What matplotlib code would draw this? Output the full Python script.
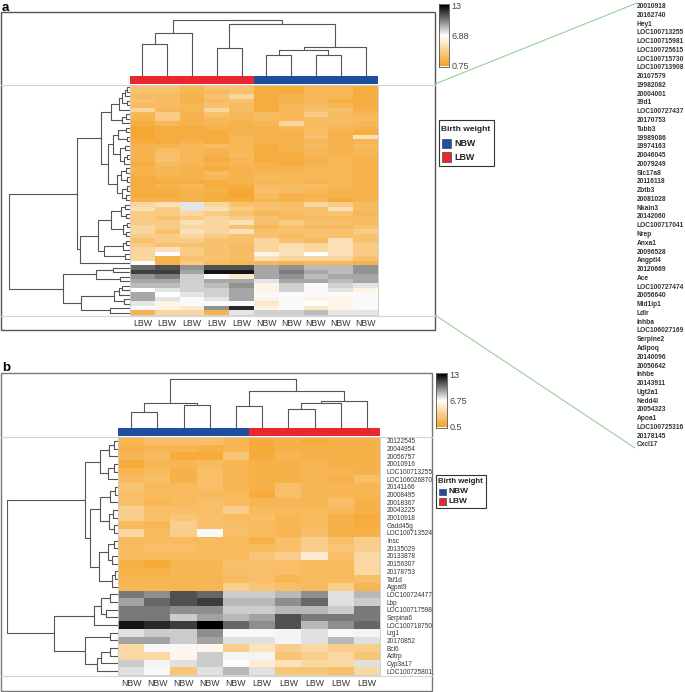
import numpy as np
import matplotlib
matplotlib.use("Agg")
import matplotlib.pyplot as plt
from matplotlib.colors import LinearSegmentedColormap
from matplotlib.patches import Rectangle

plt.rcParams['font.family'] = ['Liberation Sans', 'DejaVu Sans']

# ---------------- data: panel a ----------------
a_cols = ['LBW'] * 5 + ['NBW'] * 5
a_genes = ['20010918', '20162740', 'Hey1', 'LOC100713255', 'LOC100715981', 'LOC100725615',
           'LOC100715730', 'LOC100713908', '20107579', '19982082', '20004001', '39d1',
           'LOC100727437', '20170753', 'Tubb3', '19989086', '19974163', '20046045', '20079249',
           'Slc17a8', '20116118', 'Zbtb3', '20081028', 'Nkain3', '20142060', 'LOC100717041',
           'Nrep', 'Anxa1', '20096528', 'Angptl4', '20120669', 'Ace', 'LOC100727474',
           '20056640', 'Mid1ip1', 'Ldlr', 'Inhba', 'LOC106027169', 'Serpine2', 'Adipoq',
           '20140096', '20050642', 'Inhbe', '20143911', 'Ugt2a1', 'Nedd4l', '20054323',
           'Apoa1', 'LOC100725316', '20178145', 'Cxcl17']
a_vals = [
    [2.9, 2.9, 2.2, 2.9, 2.9, 1.6, 1.6, 2.2, 2.2, 1.6],
    [2.9, 2.9, 2.2, 2.5, 2.9, 1.6, 1.6, 2.2, 2.2, 1.6],
    [2.5, 2.5, 1.9, 2.9, 4.2, 1.6, 1.9, 2.2, 2.2, 1.6],
    [2.9, 2.5, 1.9, 2.5, 2.9, 1.6, 1.9, 2.2, 1.6, 1.6],
    [2.5, 2.5, 2.2, 2.9, 2.5, 1.6, 2.2, 2.5, 2.2, 1.6],
    [4.2, 2.2, 2.2, 4.2, 2.5, 1.6, 2.2, 2.9, 2.9, 1.9],
    [2.2, 3.5, 1.9, 2.9, 2.2, 2.5, 2.2, 3.5, 2.5, 2.2],
    [1.9, 3.5, 1.9, 2.2, 2.2, 2.5, 2.2, 2.5, 2.5, 2.5],
    [1.6, 2.2, 1.9, 2.2, 1.9, 2.2, 4.2, 2.5, 2.5, 2.2],
    [1.2, 1.6, 1.6, 1.9, 1.9, 1.9, 2.2, 2.5, 2.2, 1.9],
    [1.2, 1.6, 1.6, 1.6, 1.9, 1.9, 1.9, 2.5, 1.9, 1.6],
    [1.2, 1.6, 1.6, 1.6, 2.2, 1.9, 1.9, 2.9, 1.9, 4.9],
    [1.6, 1.6, 1.9, 1.6, 2.2, 1.9, 1.9, 2.2, 1.9, 2.2],
    [1.9, 1.9, 2.2, 2.5, 2.2, 1.6, 1.9, 2.5, 1.9, 2.5],
    [1.9, 2.5, 2.2, 1.9, 2.2, 1.6, 1.9, 2.2, 1.9, 2.2],
    [1.9, 2.9, 2.2, 1.9, 2.5, 1.6, 1.6, 2.2, 1.9, 2.2],
    [1.9, 2.9, 2.2, 1.6, 2.2, 1.6, 1.6, 1.9, 2.2, 1.9],
    [1.6, 2.5, 2.2, 1.9, 2.2, 1.9, 1.6, 1.9, 2.2, 1.9],
    [1.9, 2.2, 1.9, 1.6, 1.9, 1.9, 1.9, 2.2, 2.2, 1.9],
    [1.9, 2.2, 1.9, 2.5, 1.9, 2.2, 2.2, 2.2, 2.2, 1.9],
    [1.6, 1.9, 1.9, 2.2, 1.9, 2.5, 2.2, 2.2, 2.2, 1.9],
    [1.6, 1.6, 1.6, 1.6, 1.9, 2.2, 2.2, 1.9, 2.2, 1.9],
    [1.6, 1.9, 2.2, 1.6, 1.6, 2.5, 2.5, 2.5, 2.2, 1.9],
    [1.6, 1.6, 1.9, 1.9, 1.2, 2.9, 2.5, 2.2, 1.9, 1.9],
    [1.6, 1.6, 1.9, 1.6, 1.2, 2.5, 1.9, 1.9, 1.9, 1.9],
    [1.9, 1.9, 1.9, 1.6, 1.6, 2.2, 1.9, 2.2, 1.6, 1.9],
    [4.2, 4.9, 7.5, 4.2, 2.9, 2.9, 2.5, 4.2, 3.5, 2.5],
    [4.9, 3.5, 7.5, 4.9, 3.5, 2.9, 2.9, 2.9, 4.9, 2.5],
    [3.5, 3.5, 4.2, 3.5, 2.9, 2.2, 2.5, 2.9, 2.9, 2.2],
    [3.5, 2.9, 3.5, 4.2, 3.5, 2.9, 2.5, 2.5, 2.5, 2.5],
    [3.5, 3.5, 4.9, 4.2, 4.9, 2.9, 3.5, 2.9, 2.9, 2.5],
    [4.2, 3.5, 4.2, 4.2, 2.9, 2.2, 2.9, 2.5, 2.5, 2.9],
    [4.2, 2.9, 4.9, 4.2, 4.9, 2.9, 2.9, 2.9, 2.9, 3.5],
    [3.5, 3.5, 4.2, 3.5, 2.9, 2.9, 2.5, 2.9, 2.9, 2.9],
    [2.9, 3.5, 3.5, 2.9, 2.9, 4.2, 2.9, 2.5, 4.9, 2.9],
    [3.5, 2.9, 2.9, 2.9, 2.5, 4.2, 4.9, 4.2, 4.9, 3.5],
    [4.2, 4.9, 3.5, 2.9, 2.5, 4.2, 4.9, 4.2, 4.9, 3.5],
    [4.2, 6.9, 3.5, 2.9, 2.5, 6.2, 4.9, 6.9, 4.9, 3.5],
    [4.2, 1.9, 2.9, 2.9, 2.5, 4.9, 4.2, 4.2, 4.2, 2.9],
    [6.8, 1.9, 3.5, 2.5, 2.2, 2.2, 1.9, 2.2, 2.2, 1.9],
    [10.5, 11, 9.5, 11, 11, 9, 9.5, 8.5, 8.5, 9.5],
    [11.5, 11.5, 9, 12.5, 12.5, 9, 10, 9, 8.5, 9.5],
    [9.5, 10, 8, 6.8, 5.5, 9, 9.5, 8.5, 9, 9],
    [9, 9, 8, 9, 9, 7.5, 9, 9, 8.5, 9],
    [8.5, 8.5, 8, 8.5, 9.5, 6.2, 8, 7, 8, 7.5],
    [6.9, 7.5, 8, 8, 9, 6.2, 8, 7, 7.5, 6.2],
    [9, 6.9, 7.5, 8, 9, 7, 7, 7, 7, 7],
    [9, 7.5, 7, 7.5, 9, 6.2, 7, 6.2, 6.2, 7],
    [7.5, 6.2, 7, 7, 7, 5.5, 7, 6.9, 6.2, 7],
    [7, 6.2, 5.5, 9.5, 12, 6.2, 7, 5.5, 6.2, 7],
    [1.9, 4.2, 4.2, 1.9, 7.5, 8, 8, 8.5, 7.5, 7.5],
]
a_range = (0.75, 13)
a_cticks = ['0.75', '6.88', '13']

# trees: (left, right, merge height)
a_col_tree = (((0, 1, 32), 2, 43),
              ((3, 4, 28), (((5, 6, 21), (7, 8, 21), 26), 9, 29), 52), 56)
a_rowA1 = (((((0, 1, 3), 2, 5), (3, 4, 3), 8), 5, 11), ((6, 7, 4), 8, 8), 19)
a_rowA2 = ((((9, 10, 4), (11, 12, 3), 12), ((13, 14, 5), ((15, 16, 3), 17, 6), 10), 17),
           (((18, 19, 4), (20, 21, 3), 9), ((22, 23, 3), (24, 25, 4), 8), 13), 22)
a_rowC1 = (((26, 27, 5), (28, 29, 4), 9), ((30, 31, 3), (32, 33, 4), 7), 19)
a_rowC2 = (((34, 35, 4), 36, 7), (37, 38, 5), 26)
a_rowB1 = ((40, 41, 17), (42, 43, 10), 34)
a_rowB2 = ((((44, 45, 8), 46, 11), (47, 48, 6), 16), (49, 50, 20), 49)
a_row_tree = (((a_rowA1, a_rowA2, 29), ((a_rowC1, a_rowC2, 32), 39, 50), 53),
              (a_rowB1, a_rowB2, 67), 121)

# ---------------- data: panel b ----------------
b_cols = ['NBW'] * 5 + ['LBW'] * 5
b_genes = ['20122545', '20044954', '20056757', '20010916', 'LOC100713255', 'LOC106026870',
           '20141166', '20008495', '20018367', '20043225', '20010918', 'Gadd45g',
           'LOC100713524', 'Insc', '20135029', '20133878', '20156307', '20178753', 'Taf1d',
           'Agpat9', 'LOC100724477', 'Lbp', 'LOC100717598', 'Serpina6', 'LOC100718750',
           'Lrg1', '20170852', 'Bcl6', 'Adtrp', 'Cyp3a17', 'LOC100725801']
b_vals = [
    [1.9, 2.5, 2.5, 2.5, 1.9, 1.2, 1.6, 1.2, 1.6, 1.6],
    [1.6, 1.9, 1.9, 1.6, 1.9, 1.2, 1.6, 1.6, 1.6, 1.6],
    [1.9, 2.2, 1.2, 1.2, 2.9, 1.2, 1.9, 1.6, 1.6, 1.6],
    [1.2, 1.9, 1.9, 2.2, 1.9, 1.6, 1.6, 1.9, 1.6, 1.6],
    [1.9, 2.2, 1.6, 2.5, 1.9, 1.6, 1.6, 1.9, 1.9, 1.6],
    [2.2, 2.5, 1.6, 2.5, 1.9, 1.6, 1.6, 1.9, 1.6, 2.5],
    [2.9, 2.2, 2.2, 2.5, 1.9, 1.6, 2.5, 1.9, 1.9, 1.9],
    [2.5, 2.2, 2.2, 2.2, 2.2, 1.2, 2.5, 1.9, 1.9, 1.9],
    [2.5, 1.9, 2.2, 2.5, 2.2, 1.9, 1.9, 1.9, 2.5, 1.6],
    [3.5, 2.5, 2.5, 2.5, 3.5, 2.2, 2.2, 2.2, 2.2, 1.6],
    [3.5, 2.5, 2.9, 2.5, 2.2, 2.5, 1.9, 2.2, 1.6, 1.2],
    [2.2, 1.9, 3.5, 2.5, 2.5, 2.2, 1.9, 2.2, 1.6, 1.4],
    [4.2, 2.2, 3.5, 6.9, 2.5, 2.2, 1.9, 2.5, 1.6, 1.6],
    [2.2, 2.2, 2.2, 2.2, 2.2, 1.6, 2.5, 3.5, 2.5, 3.5],
    [2.2, 2.5, 2.5, 2.2, 2.2, 2.2, 2.5, 3.5, 2.9, 3.5],
    [2.2, 2.2, 2.2, 2.2, 2.2, 2.9, 3.5, 5.5, 2.5, 4.2],
    [1.6, 1.2, 1.9, 1.9, 2.5, 2.5, 2.5, 2.2, 2.2, 4.2],
    [1.6, 1.6, 1.9, 1.9, 2.5, 2.5, 2.5, 2.2, 2.2, 4.2],
    [1.9, 1.9, 1.9, 1.9, 2.2, 2.5, 1.9, 2.2, 2.2, 2.5],
    [1.9, 1.9, 1.9, 1.9, 3.5, 2.9, 2.5, 2.2, 3.5, 1.9],
    [10, 9.5, 11, 10.5, 8, 8, 8.5, 9.5, 7.5, 8.5],
    [9, 10.5, 11, 11.5, 8.5, 8.5, 9.5, 10.5, 7.5, 8],
    [10, 10, 9.5, 9.5, 8, 8, 8.5, 8.5, 8, 10],
    [10, 10, 8, 9, 8.5, 9, 11, 10, 10, 10],
    [12.5, 12, 11.5, 13, 10.5, 9.5, 11, 8.5, 9.5, 10.5],
    [7.5, 8, 8, 9.5, 6.9, 6.9, 7, 7.5, 6.9, 7],
    [9, 9, 8, 9, 7.5, 7.5, 7, 7.5, 8.5, 7.5],
    [4.2, 6.9, 6.9, 6.2, 3.5, 4.9, 3.5, 4.2, 3.5, 3.5],
    [4.2, 4.2, 6.2, 8, 7, 7, 2.9, 3.5, 4.2, 2.9],
    [8, 7, 7.5, 8, 6.8, 5.5, 4.9, 4.2, 4.2, 7.5],
    [7.5, 6.9, 2.9, 7.5, 8.5, 7.5, 2.9, 2.9, 2.5, 4.2],
]
b_range = (0.5, 13)
b_cticks = ['0.5', '6.75', '13']

b_col_tree = (((0, 1, 16), (2, 3, 23), 25),
              ((4, 5, 22), (((6, 7, 19), 8, 25), 9, 27), 37), 49)
b_rowT1 = (((0, 1, 4), 2, 9), ((3, 4, 4), 5, 10), 18)
b_rowT2 = ((((6, 7, 3), 8, 8), ((9, 10, 5), (11, 12, 4), 9), 18),
           (((13, 14, 4), (15, 16, 6), 10), ((17, 18, 3), 19, 6), 19), 28)
b_rowB1 = (((20, 21, 8), (22, 23, 12), 17), 24, 24)
b_rowB2 = ((25, 26, 8), (((27, 28, 8), 29, 17), 30, 21), 33)
b_row_tree = ((b_rowT1, b_rowT2, 33), (b_rowB1, b_rowB2, 64), 111)

group_colors = {'NBW': '#1f4e9e', 'LBW': '#e8282e'}
cmap = LinearSegmentedColormap.from_list('ow', ['#f5a123', '#ffffff', '#000000'])
LINE = '#555555'

W, H = 685, 692
fig = plt.figure(figsize=(W / 100, H / 100), dpi=100)


def box(x0, y0, x1, y1):
    return [x0 / W, 1 - y1 / H, (x1 - x0) / W, (y1 - y0) / H]


ov = fig.add_axes([0, 0, 1, 1])
ov.set_xlim(0, W)
ov.set_ylim(H, 0)
ov.axis('off')


def draw_tree(ax, node, top):
    if isinstance(node, int):
        return node, 0
    l, r, h = node
    pl, hl = draw_tree(ax, l, top)
    pr, hr = draw_tree(ax, r, top)
    xs, ys = [pl, pl, pr, pr], [hl, h, h, hr]
    if top:
        ax.plot(xs, ys, color=LINE, lw=0.8, solid_capstyle='butt')
    else:
        ax.plot(ys, xs, color=LINE, lw=0.8, solid_capstyle='butt')
    return (pl + pr) / 2, h


def panel(vals, cols, rng, ctl, col_tree, row_tree, hm, cdh, rdx, cb, leg, genes_right):
    data = np.array(vals)
    n, m = data.shape
    hx0, hy0, hx1, hy1 = hm
    # heatmap
    ax = fig.add_axes(box(hx0, hy0, hx1, hy1))
    ax.imshow(data, cmap=cmap, vmin=rng[0], vmax=rng[1], aspect='auto', interpolation='nearest')
    ax.set_xticks(range(m))
    ax.set_xticklabels(cols, fontsize=6.3, color='#333333')
    ax.tick_params(axis='x', length=0, pad=2.6)
    ax.set_yticks(range(n))
    if genes_right is not None:
        ax.set_yticklabels(genes_right, fontsize=4.7, color='#333333')
        ax.tick_params(axis='y', left=True, right=False, labelleft=False, labelright=True,
                       length=1.5, width=0.4, color='#777777', pad=3.5)
    else:
        ax.set_yticklabels([])
        ax.tick_params(axis='y', length=1.5, width=0.4, color='#777777')
    for s in ax.spines.values():
        s.set_color('#cccccc')
        s.set_linewidth(0.6)
    # group bar
    gb = fig.add_axes(box(hx0, hy0 - 9, hx1, hy0 - 1))
    gb.bar(range(m), 1, width=1.0, color=[group_colors[c] for c in cols], linewidth=0)
    gb.set_xlim(-0.5, m - 0.5)
    gb.set_ylim(0, 1)
    gb.axis('off')
    # column dendrogram
    cd = fig.add_axes(box(hx0, hy0 - 9 - cdh, hx1, hy0 - 9))
    draw_tree(cd, col_tree, True)
    cd.set_xlim(-0.5, m - 0.5)
    cd.set_ylim(0, cdh)
    cd.axis('off')
    # row dendrogram
    rd = fig.add_axes(box(rdx, hy0, hx0, hy1))
    draw_tree(rd, row_tree, False)
    rd.set_xlim(hx0 - rdx, 0)
    rd.set_ylim(n - 0.5, -0.5)
    rd.axis('off')
    # colour key
    cx0, cy0, cx1, cy1 = cb
    ca = fig.add_axes(box(cx0, cy0, cx1, cy1))
    grad = np.linspace(rng[0], rng[1], 256)[:, None]
    ca.imshow(grad, cmap=cmap, vmin=rng[0], vmax=rng[1], aspect='auto', origin='lower',
              extent=[0, 1, rng[0], rng[1]])
    ca.set_xticks([])
    ca.yaxis.tick_right()
    ca.set_yticks([rng[0], (rng[0] + rng[1]) / 2, rng[1]])
    ca.set_yticklabels(ctl, fontsize=6.5, color='#444444')
    ca.tick_params(axis='y', length=0, pad=2)
    ca.set_ylim(rng[0] - 0.3, rng[1] + 0.3)
    for s in ca.spines.values():
        s.set_color('#555555')
        s.set_linewidth(0.6)
    # legend
    lx0, ly0, lx1, ly1, fs = leg
    ov.add_patch(Rectangle((lx0, ly0), lx1 - lx0, ly1 - ly0, fill=False, ec='#333333', lw=0.8))
    step = (ly1 - ly0) / 3.6
    ov.text(lx0 + 2.5, ly0 + step * 0.75, 'Birth weight', fontsize=fs, weight='bold',
            va='center', ha='left', color='#222222')
    sq = step * 0.72
    for k, g in enumerate(['NBW', 'LBW']):
        yy = ly0 + step * (1.85 + 1.05 * k)
        ov.add_patch(Rectangle((lx0 + 3, yy - sq / 2), sq, sq, fc=group_colors[g],
                               ec='#444444', lw=0.5))
        ov.text(lx0 + 6 + sq, yy, g, fontsize=fs + 0.4, weight='bold', va='center',
                ha='left', color='#222222')


# ---------------- panel a ----------------
ov.text(2, 2, 'a', fontsize=9.5, weight='bold', va='top', ha='left')
ov.add_patch(Rectangle((1, 12), 434, 318, fill=False, ec='#555555', lw=1.0))
ov.plot([1, 435], [84.5, 84.5], color='#d4d4d4', lw=0.8)
ov.plot([1, 435], [315.5, 315.5], color='#d4d4d4', lw=0.8)
panel(a_vals, a_cols, a_range, a_cticks, a_col_tree, a_row_tree,
      (130, 85, 378, 315), 60, 8, (439, 4, 449, 67), (439, 120, 494, 166, 6.0), None)

# zoomed gene list for panel a
gy0, gy1 = 6.5, 445
for i, g in enumerate(a_genes):
    ov.text(637, gy0 + i * (gy1 - gy0) / (len(a_genes) - 1), g, fontsize=4.8,
            weight='bold', va='center', ha='left', color='#333333')
ov.plot([435, 637], [84, 3], color='#8cc98c', lw=0.7)
ov.plot([435, 635], [315, 448], color='#8cc98c', lw=0.7)

# ---------------- panel b ----------------
ov.text(2, 362, 'b', fontsize=9.5, weight='bold', va='top', ha='left')
ov.add_patch(Rectangle((1, 373), 431, 318, fill=False, ec='#777777', lw=1.0))
ov.plot([1, 432], [436.5, 436.5], color='#d4d4d4', lw=0.8)
ov.plot([1, 432], [675.5, 675.5], color='#d4d4d4', lw=0.8)
panel(b_vals, b_cols, b_range, b_cticks, b_col_tree, b_row_tree,
      (118, 437, 380, 675), 52, 7, (436, 373, 447, 428), (436, 475, 486, 508, 5.6), b_genes)

fig.savefig('out.png', dpi=100)
